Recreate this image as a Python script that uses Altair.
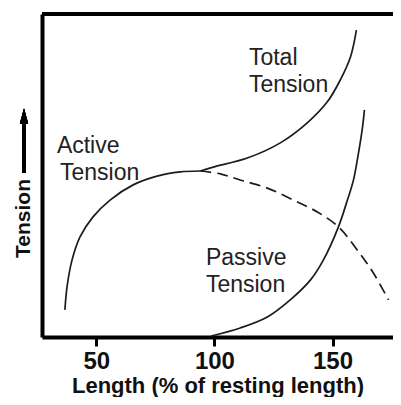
import altair as alt
import pandas as pd

# Active tension (solid part, rising to plateau)
active_x = [36.7, 37.6, 39.7, 43.1, 48.6, 55.8, 65.6, 75.7, 85.5, 94.0]
active_y = [8.4, 15.5, 23.8, 31.0, 37.2, 42.4, 47.1, 49.8, 51.1, 51.4]
# Active tension (dashed, descending limb)
active_dash_x = [94.0, 102.5, 110.9, 122.4, 133.4, 143.6, 152.5, 160.5, 167.3, 173.7]
active_dash_y = [51.4, 50.5, 48.6, 46.1, 42.4, 38.7, 34.1, 26.9, 19.8, 11.5]
# Total tension
total_x = [94.0, 99.5, 113.9, 127.9, 139.3, 147.8, 153.3, 157.6, 160.1]
total_y = [51.4, 52.6, 55.4, 60.1, 66.3, 72.8, 79.6, 86.7, 95.0]
# Passive tension
passive_x = [98.6, 110.9, 122.4, 132.1, 140.6, 146.1, 152.5, 156.3, 158.8, 161.0, 162.7, 163.5]
passive_y = [0.3, 2.8, 6.2, 11.5, 17.6, 23.8, 34.1, 42.4, 48.4, 57.0, 65.0, 70.3]

# Annotation labels
label_text = ["Active", "Tension", "Total", "Tension", "Passive", "Tension"]
label_x = [33.3, 34.6, 114.6, 114.6, 96.4, 96.4]
label_y = [57.0, 48.6, 84.2, 75.9, 22.3, 13.9]

x_ticks = [50, 100, 150]
x_title = "Length (% of resting length)"
y_title = "Tension"

rows = []
for name, xs, ys in [("Active", active_x, active_y),
                     ("Total", total_x, total_y),
                     ("Passive", passive_x, passive_y)]:
    for i, (a, b) in enumerate(zip(xs, ys)):
        rows.append({"curve": name, "i": i, "x": a, "y": b})
solid = pd.DataFrame(rows)
dashed = pd.DataFrame({"x": active_dash_x, "y": active_dash_y, "i": range(len(active_dash_x))})
labels = pd.DataFrame({"t": label_text, "x": label_x, "y": label_y})

W, H = 351, 323
FONT = "Liberation Sans"
INK = "#1c1c1c"

xs = alt.Scale(domain=[27, 175.6], nice=False, zero=False)
ys = alt.Scale(domain=[0, 100], nice=False, zero=False)

xax = alt.Axis(values=x_ticks, title=x_title, grid=False, domainColor="black",
               domainWidth=4, tickColor="black", tickWidth=3, tickSize=9,
               labelFont=FONT, labelFontSize=24, labelFontWeight="bold",
               labelColor="#111", labelPadding=3, titleFont=FONT,
               titleFontSize=22, titleFontWeight="bold", titleColor="#111",
               titleBaseline="alphabetic", titleY=55)
yax = alt.Axis(title=y_title, grid=False, domainColor="black", domainWidth=4,
               ticks=False, labels=False, titleFont=FONT, titleFontSize=21,
               titleFontWeight="bold", titleColor="#111", titleAngle=270,
               titleAlign="center", titleBaseline="middle", titleX=-19,
               titleY=204)

base_solid = alt.Chart(solid).mark_line(color=INK, strokeWidth=1.7, interpolate="catmull-rom").encode(
    x=alt.X("x:Q", scale=xs, axis=xax),
    y=alt.Y("y:Q", scale=ys, axis=yax),
    detail="curve:N",
    order="i:Q",
)
dash_line = alt.Chart(dashed).mark_line(color=INK, strokeWidth=1.7, strokeDash=[11, 6],
                                        interpolate="catmull-rom").encode(
    x=alt.X("x:Q", scale=xs), y=alt.Y("y:Q", scale=ys), order="i:Q")

text = alt.Chart(labels).mark_text(align="left", baseline="alphabetic", font=FONT,
                                   fontSize=23, color="#222").encode(
    x=alt.X("x:Q", scale=xs), y=alt.Y("y:Q", scale=ys), text="t:N")

top_border = alt.Chart(labels).mark_rule(color="black", strokeWidth=4).encode(
    x=alt.value(0), x2=alt.value(W + 4), y=alt.value(0))

arrow_shaft = alt.Chart(labels).mark_rule(color="black", strokeWidth=3).encode(
    x=alt.value(-18), y=alt.value(159), y2=alt.value(106))
arrow_head = alt.Chart(labels).mark_point(shape="M0,-1L0.55,1L-0.55,1Z", filled=True,
                                          color="black", size=225, opacity=1).encode(
    x=alt.value(-18), y=alt.value(102))

chart = alt.layer(base_solid, dash_line, text, top_border, arrow_shaft, arrow_head).properties(
    width=W, height=H,
    autosize=alt.AutoSizeParams(type="none"),
    padding={"left": 34, "top": 6, "right": 0, "bottom": 60},
).configure_view(stroke=None).configure(background="white")

chart.save("out.html", embed_options={"renderer": "svg", "actions": False})
